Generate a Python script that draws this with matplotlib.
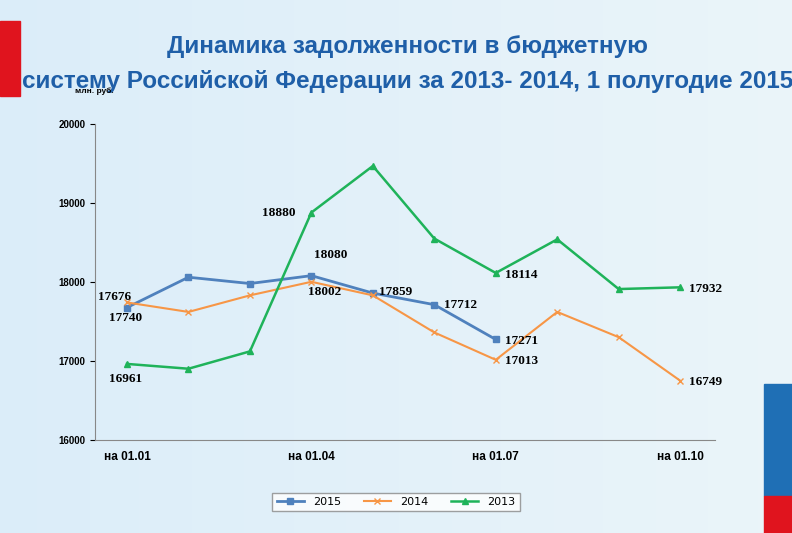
import matplotlib
matplotlib.use("Agg")
import matplotlib.pyplot as plt
from matplotlib.patches import Rectangle
import numpy as np

months = ["на 01.01","на 01.02","на 01.03","на 01.04","на 01.05","на 01.06","на 01.07","на 01.08","на 01.09","на 01.10"]
tick_labels = ["на 01.01","на 01.04","на 01.07","на 01.10"]
s2015 = [17676, 18060, 17980, 18080, 17859, 17712, 17271]
s2014 = [17740, 17620, 17830, 18002, 17830, 17360, 17013, 17620, 17300, 16749]
s2013 = [16961, 16900, 17120, 18880, 19470, 18550, 18114, 18540, 17910, 17932]

fig = plt.figure(figsize=(7.92, 5.33), dpi=100)
bg = fig.add_axes([0, 0, 1, 1], zorder=-10)
grad = np.linspace(0, 1, 256).reshape(1, -1)
bg.imshow(np.dstack([0.86 + 0.06*grad, 0.93 + 0.03*grad, 0.98 + 0*grad]), aspect='auto', extent=[0, 1, 0, 1])
bg.add_patch(Rectangle((0, 0.82), 0.025, 0.14, color='#e0141e'))
bg.add_patch(Rectangle((0.965, 0.07), 0.035, 0.21, color='#1f6fb5'))
bg.add_patch(Rectangle((0.965, 0.0), 0.035, 0.07, color='#e0141e'))
bg.set_xlim(0, 1); bg.set_ylim(0, 1); bg.axis('off')

fig.text(0.515, 0.9, "Динамика задолженности в бюджетную", ha='center', fontsize=17.5, fontweight='bold', color='#1f5fa8', family='Liberation Sans')
fig.text(0.515, 0.835, "систему Российской Федерации за 2013- 2014, 1 полугодие 2015", ha='center', fontsize=17.5, fontweight='bold', color='#1f5fa8', family='Liberation Sans')
fig.text(0.095, 0.825, "млн. руб.", fontsize=6, fontweight='bold', family='Liberation Sans')

ax = fig.add_axes([0.12, 0.175, 0.783, 0.592])
ax.patch.set_alpha(0)
x = np.arange(len(months))
ax.plot(x[:len(s2015)], s2015, color='#4f81bd', marker='s', ms=5, lw=2, label='2015')
ax.plot(x, s2014, color='#f79646', marker='x', ms=4, lw=1.5, label='2014')
ax.plot(x, s2013, color='#1fb35a', marker='^', ms=4, lw=1.8, label='2013')
ax.set_ylim(16000, 20000)
ax.set_xlim(-0.52, 9.57)
ax.set_yticks([16000, 17000, 18000, 19000, 20000])
ax.set_xticks([0, 3, 6, 9]); ax.set_xticklabels(tick_labels)
ax.tick_params(axis='x', length=0, pad=8)
for l in ax.get_xticklabels() + ax.get_yticklabels():
    l.set_fontweight('bold'); l.set_family('Liberation Sans')
ax.tick_params(axis='y', labelsize=7)
ax.tick_params(axis='x', labelsize=8.5)
for s in ['top', 'right']:
    ax.spines[s].set_visible(False)
ax.spines['left'].set_color('#888'); ax.spines['bottom'].set_color('#888')

kw = dict(fontsize=9.5, fontweight='bold', family='Liberation Serif')
ann = [(0, s2015[0], "17676", -0.47, 90), (0, s2014[0], "17740", -0.3, -230),
       (3, s2015[3], "18080", 0.05, 230), (3, s2014[3], "18002", -0.05, -170),
       (4, s2015[4], "17859", 0.1, -30), (5, s2015[5], "17712", 0.15, -40),
       (6, s2015[6], "17271", 0.15, -60), (6, s2014[6], "17013", 0.15, -50),
       (0, s2013[0], "16961", -0.3, -230), (3, s2013[3], "18880", -0.8, -50),
       (6, s2013[6], "18114", 0.15, -60), (9, s2013[9], "17932", 0.15, -60),
       (9, s2014[9], "16749", 0.15, -60)]
for xi, yi, t, dx, dy in ann:
    ax.text(xi + dx, yi + dy, t, **kw)

fig.legend(loc='lower center', bbox_to_anchor=(0.5, 0.03), ncol=3, fontsize=8, frameon=True,
           fancybox=False, edgecolor='#888', handlelength=2.5)
fig.savefig("out.png", dpi=100)
